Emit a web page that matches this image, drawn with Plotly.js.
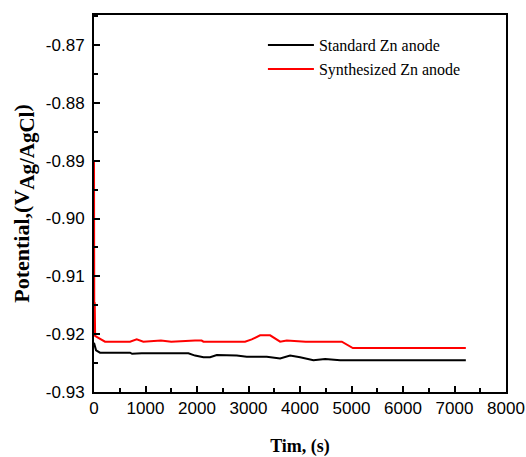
<!DOCTYPE html>
<html>
<head>
<meta charset="utf-8">
<script src="https://cdn.plot.ly/plotly-3.0.1.min.js"></script>
<style>html,body{margin:0;padding:0;background:#fff;}#chart{width:526px;height:457px;}</style>
</head>
<body>
<div id="chart"></div>
<script>
// Standard Zn anode
var stdTime = [0, 15, 40, 117, 700, 740, 926, 1833, 1962, 2125, 2254, 2384, 2772, 2966, 3355, 3614, 3808, 4002, 4261, 4488, 4780, 7220];
var stdPot  = [-0.9215, -0.9222, -0.9228, -0.9232, -0.9232, -0.9234, -0.9233, -0.9233, -0.9237, -0.9240, -0.9240, -0.9236, -0.9237, -0.9239, -0.9239, -0.9242, -0.9237, -0.9240, -0.9245, -0.9243, -0.9245, -0.9245];
// Synthesized Zn anode
var synTime = [0, 6, 14, 22, 35, 60, 214, 700, 829, 958, 1300, 1500, 1962, 2090, 2125, 2933, 3063, 3225, 3420, 3614, 3743, 4110, 4812, 5026, 7220];
var synPot  = [-0.8899, -0.9203, -0.9145, -0.9203, -0.9204, -0.9205, -0.9213, -0.9213, -0.9209, -0.9213, -0.9211, -0.9213, -0.9211, -0.9211, -0.9213, -0.9213, -0.9209, -0.9202, -0.9202, -0.9213, -0.9211, -0.9213, -0.9213, -0.9224, -0.9224];
var seriesNames = ["Standard Zn anode", "Synthesized Zn anode"];
var xTickVals = [0, 1000, 2000, 3000, 4000, 5000, 6000, 7000, 8000];
var xTickText = ["0", "1000", "2000", "3000", "4000", "5000", "6000", "7000", "8000"];
var yTickVals = [-0.93, -0.92, -0.91, -0.90, -0.89, -0.88, -0.87];
var yTickText = ["-0.93", "-0.92", "-0.91", "-0.90", "-0.89", "-0.88", "-0.87"];

var traces = [
  {x: stdTime, y: stdPot, name: seriesNames[0], mode: 'lines', line: {color: '#000000', width: 2}},
  {x: synTime, y: synPot, name: seriesNames[1], mode: 'lines', line: {color: '#ff0000', width: 2}}
];

var layout = {
  width: 526, height: 457,
  margin: {l: 94, r: 20, t: 15, b: 65},
  paper_bgcolor: '#fff', plot_bgcolor: '#fff',
  showlegend: true,
  legend: {
    x: 0.41, y: 0.965, xanchor: 'left', yanchor: 'top',
    bgcolor: 'rgba(0,0,0,0)', borderwidth: 0,
    itemwidth: 46,
    font: {family: 'Liberation Serif, Times New Roman, serif', size: 16, color: '#000'},
    tracegroupgap: 0
  },
  xaxis: {
    range: [0, 8000], tickmode: 'array', tickvals: xTickVals, ticktext: xTickText,
    ticks: 'inside', ticklen: 6, tickwidth: 2, tickcolor: '#000',
    minor: {dtick: 500, tick0: 0, ticks: 'inside', ticklen: 4, tickwidth: 2, tickcolor: '#000', showgrid: false},
    showline: true, linecolor: '#000', linewidth: 2, mirror: true,
    showgrid: false, zeroline: false,
    tickfont: {family: 'Liberation Sans, Arial, sans-serif', size: 17, color: '#000'},
    title: {text: 'Tim, (s)', standoff: 24, font: {family: 'Liberation Serif, Times New Roman, serif', size: 18, color: '#000', weight: 'bold'}}
  },
  yaxis: {
    range: [-0.93, -0.8648], tickmode: 'array', tickvals: yTickVals, ticktext: yTickText,
    ticks: 'inside', ticklen: 6, tickwidth: 2, tickcolor: '#000',
    minor: {dtick: 0.005, tick0: -0.93, ticks: 'inside', ticklen: 4, tickwidth: 2, tickcolor: '#000', showgrid: false},
    showline: true, linecolor: '#000', linewidth: 2, mirror: true,
    showgrid: false, zeroline: false,
    ticklabelstandoff: 4,
    tickfont: {family: 'Liberation Sans, Arial, sans-serif', size: 17, color: '#000'},
    title: {text: 'Potential,(V<sub><span style="font-size:21px">Ag/AgCl</span></sub>)', standoff: 10, font: {family: 'Liberation Serif, Times New Roman, serif', size: 22, color: '#000', weight: 'bold'}}
  }
};

Plotly.newPlot('chart', traces, layout, {displayModeBar: false, staticPlot: true});
</script>
</body>
</html>
